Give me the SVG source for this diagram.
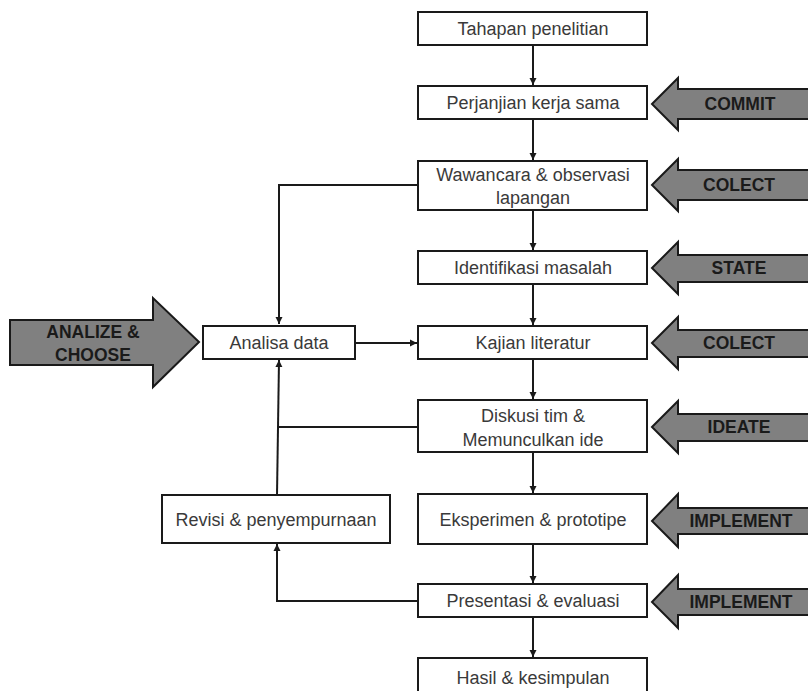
<svg xmlns="http://www.w3.org/2000/svg" width="808" height="691" viewBox="0 0 808 691">
<style>
.box{fill:#fff;stroke:#1a1a1a;stroke-width:2}
.t{font-family:"Liberation Sans",Arial,sans-serif;font-size:18px;fill:#3a3a3a;text-anchor:middle;dominant-baseline:central}
.big{fill:#808080;stroke:#1a1a1a;stroke-width:2;stroke-linejoin:miter}
.bt{font-family:"Liberation Sans",Arial,sans-serif;font-size:17.5px;font-weight:bold;fill:#1a1a1a;text-anchor:middle;dominant-baseline:central}
.c{fill:none;stroke:#1a1a1a;stroke-width:2}
</style>
<defs>
<marker id="ah" markerWidth="8" markerHeight="8" refX="7" refY="4" orient="auto" markerUnits="userSpaceOnUse">
<path d="M0,0.5 L7,4 L0,7.5 Z" fill="#1a1a1a"/>
</marker>
</defs>
<rect width="808" height="691" fill="#fff"/>

<g id="connectors">
<line class="c" x1="533" y1="45" x2="533" y2="85" marker-end="url(#ah)"/>
<line class="c" x1="533" y1="119" x2="533" y2="160" marker-end="url(#ah)"/>
<line class="c" x1="533" y1="210" x2="533" y2="250" marker-end="url(#ah)"/>
<line class="c" x1="533" y1="284" x2="533" y2="325" marker-end="url(#ah)"/>
<line class="c" x1="533" y1="359" x2="533" y2="399" marker-end="url(#ah)"/>
<line class="c" x1="533" y1="452" x2="533" y2="493" marker-end="url(#ah)"/>
<line class="c" x1="533" y1="544" x2="533" y2="583" marker-end="url(#ah)"/>
<line class="c" x1="533" y1="617" x2="533" y2="657" marker-end="url(#ah)"/>
<polyline class="c" points="418,185 279,185 279,324" marker-end="url(#ah)"/>
<line class="c" x1="355" y1="343" x2="417" y2="343" marker-end="url(#ah)"/>
<line class="c" x1="418" y1="427" x2="278" y2="427"/>
<line class="c" x1="277" y1="495" x2="279" y2="360" marker-end="url(#ah)"/>
<polyline class="c" points="418,601 277,601 277,544" marker-end="url(#ah)"/>
</g>

<g id="n-tahapan"><rect class="box" x="418" y="12" width="229" height="33"/><text class="t" x="533" y="29">Tahapan penelitian</text></g>
<g id="n-perjanjian"><rect class="box" x="418" y="86" width="229" height="33"/><text class="t" x="533" y="103">Perjanjian kerja sama</text></g>
<g id="n-wawancara"><rect class="box" x="418" y="161" width="229" height="49"/><text class="t" x="533" y="175">Wawancara &amp; observasi</text><text class="t" x="533" y="198">lapangan</text></g>
<g id="n-identifikasi"><rect class="box" x="418" y="251" width="229" height="33"/><text class="t" x="533" y="268">Identifikasi masalah</text></g>
<g id="n-kajian"><rect class="box" x="418" y="326" width="229" height="33"/><text class="t" x="533" y="343">Kajian literatur</text></g>
<g id="n-diskusi"><rect class="box" x="418" y="400" width="229" height="52"/><text class="t" x="533" y="416">Diskusi tim &amp;</text><text class="t" x="533" y="440">Memunculkan ide</text></g>
<g id="n-eksperimen"><rect class="box" x="418" y="494" width="229" height="50"/><text class="t" x="533" y="520">Eksperimen &amp; prototipe</text></g>
<g id="n-presentasi"><rect class="box" x="418" y="584" width="229" height="33"/><text class="t" x="533" y="601">Presentasi &amp; evaluasi</text></g>
<g id="n-hasil"><rect class="box" x="418" y="658" width="229" height="45"/><text class="t" x="533" y="678">Hasil &amp; kesimpulan</text></g>
<g id="n-analisa"><rect class="box" x="203" y="326" width="152" height="33"/><text class="t" x="279" y="343">Analisa data</text></g>
<g id="n-revisi"><rect class="box" x="162" y="495" width="228" height="48"/><text class="t" x="276" y="520">Revisi &amp; penyempurnaan</text></g>

<g id="a-analize"><polygon class="big" points="10,320 153,320 153,298 199,342 153,387 153,365 10,365"/><text class="bt" x="93" y="332">ANALIZE &amp;</text><text class="bt" x="93" y="355">CHOOSE</text></g>
<g id="a-commit"><polygon class="big" points="652,104 678,78 678,89 815,89 815,119 678,119 678,130"/><text class="bt" x="740" y="104">COMMIT</text></g>
<g id="a-colect1"><polygon class="big" points="652,185 678,159 678,170 815,170 815,200 678,200 678,211"/><text class="bt" x="739" y="185">COLECT</text></g>
<g id="a-state"><polygon class="big" points="652,268 678,242 678,255 815,255 815,282 678,282 678,294"/><text class="bt" x="739" y="268">STATE</text></g>
<g id="a-colect2"><polygon class="big" points="652,343 678,317 678,330 815,330 815,357 678,357 678,369"/><text class="bt" x="739" y="343">COLECT</text></g>
<g id="a-ideate"><polygon class="big" points="652,427 678,401 678,414 815,414 815,441 678,441 678,453"/><text class="bt" x="739" y="427">IDEATE</text></g>
<g id="a-impl1"><polygon class="big" points="652,521 678,494 678,508 815,508 815,534 678,534 678,547"/><text class="bt" x="741" y="521">IMPLEMENT</text></g>
<g id="a-impl2"><polygon class="big" points="652,602 678,575 678,589 815,589 815,615 678,615 678,628"/><text class="bt" x="741" y="602">IMPLEMENT</text></g>
</svg>
